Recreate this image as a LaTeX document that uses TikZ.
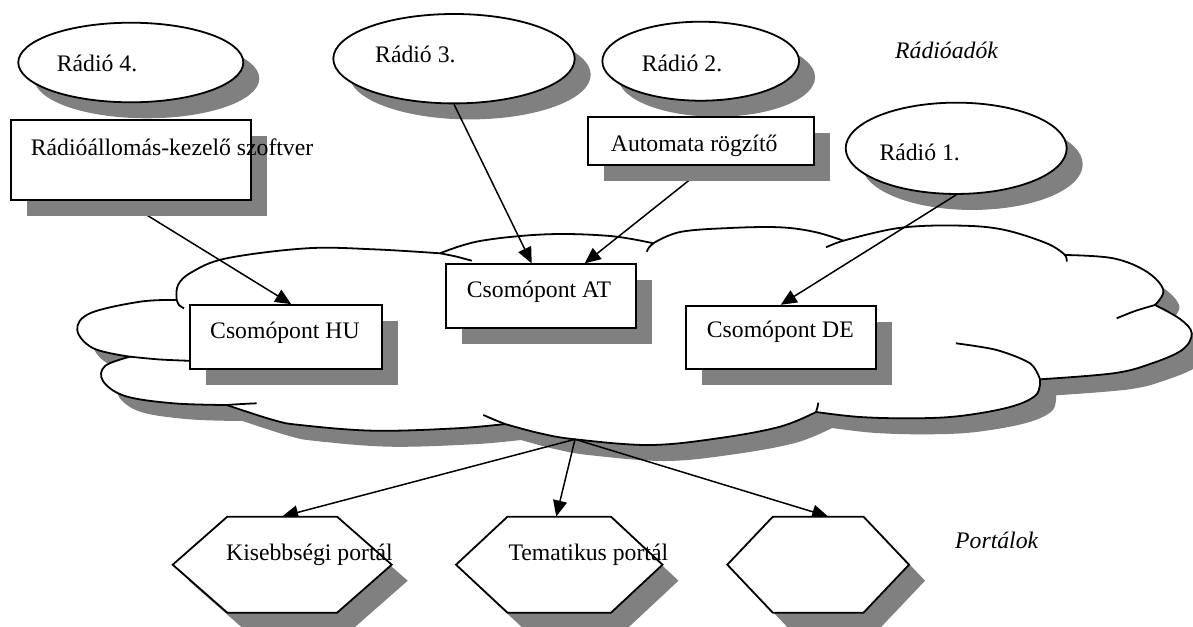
\documentclass[tikz,border=0pt]{standalone}
\usepackage{fontspec}
\setmainfont{Liberation Serif}
\usetikzlibrary{shapes.geometric,arrows.meta,shadows,calc}
\pgfdeclarelayer{shadowlayer}
\pgfdeclarelayer{cloudlayer}
\pgfdeclarelayer{linelayer}
\pgfsetlayers{shadowlayer,cloudlayer,linelayer,main}
\definecolor{shadowgray}{RGB}{128,128,128}
\tikzset{
  diagfont/.style={font=\fontsize{23.7pt}{28pt}\selectfont},
  myshadow/.style={drop shadow={shadow xshift=16pt,shadow yshift=-16pt,fill=shadowgray,opacity=1}},
  radio/.style={ellipse,draw,line width=1.8pt,fill=white,inner sep=0pt,myshadow},
  boxnode/.style={rectangle,draw,line width=1.8pt,fill=white,inner sep=0pt,myshadow},
  txt/.style={diagfont,anchor=base west,inner sep=0pt},
  conn/.style={line width=1.5pt,-{Triangle[length=16pt,width=14pt]}},
  outline/.style={line width=1.8pt},
  tail/.style={line width=1.8pt},
}
\def\cloudoutline{%
plot[smooth,tension=0.6] coordinates {(176.7,300) (178,285) (192,272) (226.7,258.3) (306.7,248.3) (373.3,249.3) (440,253.3)}
-- plot[smooth,tension=0.6] coordinates {(440,253.3) (480,241) (546.7,234.3) (610,236) (653.3,243.3)}
-- plot[smooth,tension=0.6] coordinates {(653.3,243.3) (680,232) (730,228) (780,227.3) (815,232) (843.3,240.7)}
-- plot[smooth,tension=0.6] coordinates {(843.3,240.7) (896.7,228.3) (950,225.5) (1000,229) (1046.7,243.3) (1065,255)}
-- plot[smooth,tension=0.6] coordinates {(1065,255) (1113.3,258.3) (1146.7,271.7) (1163.3,290) (1155,305)}
-- plot[smooth,tension=0.6] coordinates {(1155,305) (1180,319) (1191.7,333.3) (1182,350) (1150,364) (1113.3,373.3) (1040,379.3)}
-- plot[smooth,tension=0.6] coordinates {(1040,379.3) (1036,395) (1010,407) (960,416) (913.3,418.3) (860,417) (816,412)}
-- plot[smooth,tension=0.6] coordinates {(816,412) (780,426.7) (720,438) (650,445) (575,439.3) (540,433.3) (505,424)}
-- plot[smooth,tension=0.6] coordinates {(505,424) (456.7,428.3) (373.3,430.7) (300,425) (273.3,420) (226.7,405)}
-- plot[smooth,tension=0.6] coordinates {(226.7,405) (173.3,403.3) (125,396) (103,381) (105,366) (130,356.7)}
-- plot[smooth,tension=0.6] coordinates {(130,356.7) (93.3,348.3) (77.3,330) (90,313.3) (140,301.7) (176.7,300)}
-- cycle}
\newcommand\portalhex[5]{%
  \begin{scope}[shift={(#2+16,#3+16)}]
    \fill[shadowgray] (-#4,0) -- (-#4+#5,-48) -- (#4-#5,-48) -- (#4,0) -- (#4-#5,48) -- (-#4+#5,48) -- cycle;
  \end{scope}
  \begin{scope}[shift={(#2,#3)}]
    \draw[outline,fill=white,line join=miter] (-#4,0) -- (-#4+#5,-48) -- (#4-#5,-48) -- (#4,0) -- (#4-#5,48) -- (-#4+#5,48) -- cycle;
  \end{scope}
  \node[inner sep=0pt,minimum width={2*#4 pt},minimum height=96pt] (#1) at (#2,#3) {};
}
\begin{document}
\begin{tikzpicture}[x=1pt,y=-1pt]
\useasboundingbox (0,0) rectangle (1193,626);

% cloud shadow
\begin{pgfonlayer}{shadowlayer}
  \fill[shadowgray,shift={(16,16)}] \cloudoutline;
\end{pgfonlayer}

% cloud and radio ellipses
\begin{pgfonlayer}{cloudlayer}
  \draw[outline,fill=white] \cloudoutline;
  \draw[tail] plot[smooth] coordinates {(176.7,300) (179,305) (184,308.3)};
  \draw[tail] plot[smooth] coordinates {(440,253.3) (456,256.5) (471.7,260.7)};
  \draw[tail] plot[smooth] coordinates {(653.3,243.3) (649,247.5) (646.7,251.7)};
  \draw[tail] plot[smooth] coordinates {(843.3,240.7) (835,243.5) (826,247.3)};
  \draw[tail] plot[smooth] coordinates {(1065,255) (1066.5,258) (1066.7,261.7)};
  \draw[tail] plot[smooth] coordinates {(1155,305) (1135,311) (1116.7,318.3)};
  \draw[tail] plot[smooth] coordinates {(1040,379.3) (1030,363.3) (996.7,350) (956,343.3)};
  \draw[tail] plot[smooth] coordinates {(816,412) (817.5,407) (818.3,402.7)};
  \draw[tail] plot[smooth] coordinates {(505,424) (495,420) (483.3,415)};
  \draw[tail] plot[smooth] coordinates {(226.7,405) (242,404) (256.7,403.3)};
  \draw[tail] plot[smooth] coordinates {(130,356.7) (160,359.5) (195,361)};

  \node[radio,minimum width=225pt,minimum height=79.6pt] (r4) at (130.8,62.5) {};
  \node[radio,minimum width=241.4pt,minimum height=89.4pt] (r3) at (454,58.7) {};
  \node[radio,minimum width=196.7pt,minimum height=79pt] (r2) at (700.7,61.2) {};
  \node[radio,minimum width=221pt,minimum height=91.3pt] (r1) at (956.2,148.3) {};
\end{pgfonlayer}

% boxes
\node[boxnode,minimum width=240.3pt,minimum height=80pt] (sw) at (130.85,160) {};
\node[boxnode,minimum width=225.7pt,minimum height=48.3pt] (ar) at (701.2,140.85) {};
\node[boxnode,minimum width=192.3pt,minimum height=64.3pt] (hu) at (286.2,337.2) {};
\node[boxnode,minimum width=190pt,minimum height=64pt] (at) at (540.7,296.3) {};
\node[boxnode,minimum width=190pt,minimum height=63.6pt] (de) at (780.7,337.5) {};

% portals
\portalhex{h1}{282.2}{564.7}{109.5}{54.6}
\portalhex{h2}{559.25}{564.7}{103.25}{51.5}
\portalhex{h3}{818.15}{564.7}{90.85}{45.5}

% texts
\node[txt] (t-r4) at (56.7,71.7) {Rádió 4.};
\node[txt] (t-r3) at (375,62.3) {Rádió 3.};
\node[txt] (t-r2) at (641.7,71) {Rádió 2.};
\node[txt] (t-r1) at (879.3,160.7) {Rádió 1.};
\node[txt] (t-adok) at (895,58.3) {\textit{Rádióadók}};
\node[txt] (t-sw) at (30.7,155) {Rádióállomás-kezelő szoftver};
\node[txt] (t-ar) at (610.7,151.7) {Automata rögzítő};
\node[txt] (t-hu) at (210,338.3) {Csomópont HU};
\node[txt] (t-at) at (466.7,297.3) {Csomópont AT};
\node[txt] (t-de) at (706.7,337.7) {Csomópont DE};
\node[txt] (t-h1) at (226,560) {Kisebbségi portál};
\node[txt] (t-h2) at (508.3,560) {Tematikus portál};
\node[txt] (t-portal) at (955,548.3) {\textit{Portálok}};

% connectors
\begin{pgfonlayer}{linelayer}
  \coordinate (cb) at (575,439.3);
  \draw[conn] ([xshift=-7pt]sw.south) -- ([xshift=5pt]hu.north);
  \draw[conn] (r3.south) -- ([xshift=-9pt]at.north);
  \draw[conn] ([xshift=6pt]ar.south) -- ([xshift=44pt]at.north);
  \draw[conn] (r1.south) -- (de.north);
  \draw[conn] (cb) -- (h1.north);
  \draw[conn] (cb) -- ([xshift=-3pt]h2.north);
  \draw[conn] (cb) -- ([xshift=10pt]h3.north);
\end{pgfonlayer}
\end{tikzpicture}
\end{document}
